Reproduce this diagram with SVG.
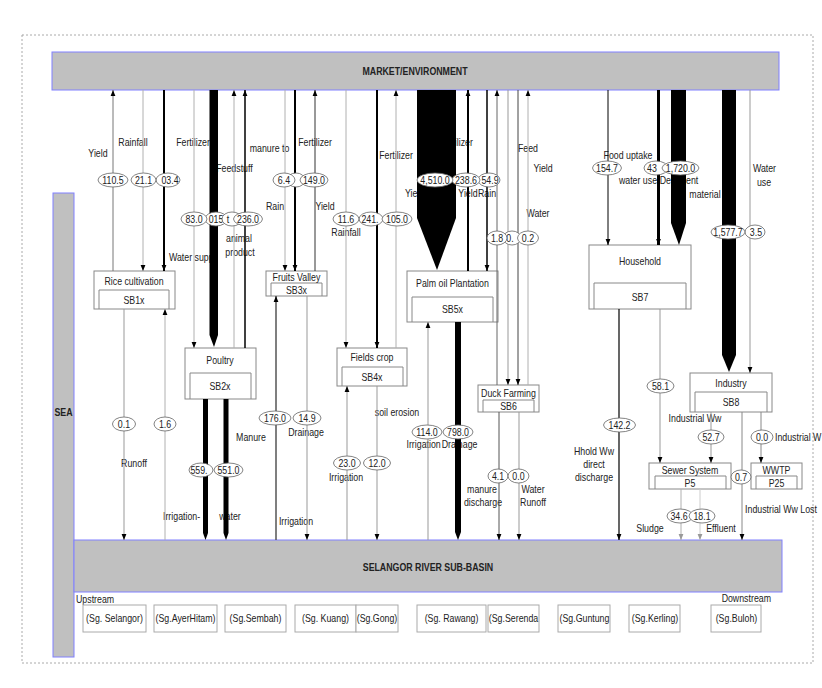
<svg xmlns="http://www.w3.org/2000/svg" width="822" height="688" viewBox="0 0 822 688">
<defs>
<style>
text{font-family:"Liberation Sans",Arial,sans-serif;font-size:11px;fill:#222}
.c{text-anchor:middle}
.e{text-anchor:end}
.b{font-weight:bold}
.bar{fill:#c0c0c0;stroke:#8080ff;stroke-width:1}
.box{fill:#fff;stroke:#888;stroke-width:1}
.inn{fill:none;stroke:#888;stroke-width:1}
.riv{fill:#fff;stroke:#aaa;stroke-width:1}
.el{fill:#fff;stroke:#666;stroke-width:0.9}
.a{fill:none;marker-end:url(#ak)}
.ag{fill:none;marker-end:url(#ag)}
.k{stroke:#000}
.g{stroke:#999}
.lg{stroke:#b0b0b0}
.dg{stroke:#666}
.poly{fill:#000}
</style>
<marker id="ak" markerUnits="userSpaceOnUse" markerWidth="6" markerHeight="6" viewBox="0 0 6 6" refX="6" refY="3" orient="auto"><path d="M0,0.6 L6,3 L0,5.4z" fill="#000"/></marker>
<marker id="ag" markerUnits="userSpaceOnUse" markerWidth="6" markerHeight="6" viewBox="0 0 6 6" refX="6" refY="3" orient="auto"><path d="M0,0.6 L6,3 L0,5.4z" fill="#999"/></marker>
</defs>
<rect x="0" y="0" width="822" height="688" fill="#fff"/>
<rect x="22" y="35" width="791" height="628" fill="none" stroke="#aaa" stroke-width="1" stroke-dasharray="2,2"/>

<g id="market">
<rect class="bar" x="52" y="52" width="727" height="38"/>
<g transform="scale(0.8 1)"><text class="c b" x="518.75" y="75">MARKET/ENVIRONMENT</text></g>
</g>
<g id="sea">
<rect class="bar" x="53" y="193" width="21" height="464"/>
<g transform="scale(0.8 1)"><text class="c b" x="79.4" y="416">SEA</text></g>
</g>
<g id="river">
<rect class="bar" x="74" y="540" width="708" height="52"/>
<g transform="scale(0.8 1)"><text class="c b" x="535" y="571">SELANGOR RIVER SUB-BASIN</text>
<text x="95" y="603">Upstream</text>
<text class="e" x="963.75" y="602">Downstream</text></g>
</g>
<g id="subrivers">
<rect class="riv" x="83" y="605" width="63" height="27"/>
<rect class="riv" x="154" y="605" width="63" height="27"/>
<rect class="riv" x="225" y="605" width="61" height="27"/>
<rect class="riv" x="295" y="605" width="61" height="27"/>
<rect class="riv" x="356" y="605" width="42" height="27"/>
<rect class="riv" x="417" y="605" width="69" height="27"/>
<rect class="riv" x="488" y="605" width="51" height="27"/>
<rect class="riv" x="558" y="605" width="52" height="27"/>
<rect class="riv" x="629" y="605" width="51" height="27"/>
<rect class="riv" x="711" y="605" width="50" height="27"/>
<g transform="scale(0.8 1)">
<text class="c" x="143.1" y="622">(Sg. Selangor)</text>
<text class="c" x="231.9" y="622">(Sg.AyerHitam)</text>
<text class="c" x="319.4" y="622">(Sg.Sembah)</text>
<text class="c" x="406.9" y="622">(Sg. Kuang)</text>
<text class="c" x="471.25" y="622">(Sg.Gong)</text>
<text class="c" x="564.4" y="622">(Sg. Rawang)</text>
<text class="c" x="641.9" y="622">(Sg.Serenda</text>
<text class="c" x="730.6" y="622">(Sg.Guntung</text>
<text class="c" x="818.75" y="622">(Sg.Kerling)</text>
<text class="c" x="920.6" y="622">(Sg.Buloh)</text>
</g>
</g>

<g id="rice">
<rect class="box" x="94" y="271" width="81" height="38"/>
<path class="inn" d="M99,309 V290 H169 V309"/>
<g transform="scale(0.8 1)"><text class="c" x="167.5" y="285">Rice cultivation</text><text class="c" x="167.5" y="304">SB1x</text></g>
</g>
<g id="poultry">
<rect class="box" x="185" y="348" width="71" height="51"/>
<path class="inn" d="M190,399 V373 H251 V399"/>
<g transform="scale(0.8 1)"><text class="c" x="275" y="364">Poultry</text><text class="c" x="275" y="390">SB2x</text></g>
</g>
<g id="fruits">
<rect class="box" x="266" y="271" width="61" height="25"/>
<path class="inn" d="M271,296 V283 H322 V296"/>
<g transform="scale(0.8 1)"><text class="c" x="370.6" y="281">Fruits Valley</text><text class="c" x="370.6" y="294">SB3x</text></g>
</g>
<g id="fields">
<rect class="box" x="337" y="348" width="70" height="38"/>
<path class="inn" d="M342,386 V367 H403 V386"/>
<g transform="scale(0.8 1)"><text class="c" x="465" y="361">Fields crop</text><text class="c" x="465" y="381">SB4x</text></g>
</g>
<g id="palm">
<rect class="box" x="407" y="271" width="91" height="51"/>
<path class="inn" d="M412,322 V297 H493 V322"/>
<g transform="scale(0.8 1)"><text class="c" x="565.6" y="287">Palm oil Plantation</text><text class="c" x="565.6" y="313">SB5x</text></g>
</g>
<g id="duck">
<rect class="box" x="478" y="385" width="61" height="27"/>
<path class="inn" d="M483,412 V400 H534 V412"/>
<g transform="scale(0.8 1)"><text class="c" x="635.6" y="397">Duck Farming</text><text class="c" x="635.6" y="410">SB6</text></g>
</g>
<g id="household">
<rect class="box" x="589" y="245" width="102" height="64"/>
<path class="inn" d="M594,309 V283 H686 V309"/>
<g transform="scale(0.8 1)"><text class="c" x="800" y="265">Household</text><text class="c" x="800" y="301">SB7</text></g>
</g>
<g id="industry">
<rect class="box" x="690" y="373" width="82" height="39"/>
<path class="inn" d="M695,412 V392 H767 V412"/>
<g transform="scale(0.8 1)"><text class="c" x="913.75" y="387">Industry</text><text class="c" x="913.75" y="406">SB8</text></g>
</g>
<g id="sewer">
<rect class="box" x="649" y="463" width="82" height="26"/>
<path class="inn" d="M655,489 V476 H726 V489"/>
<g transform="scale(0.8 1)"><text class="c" x="862.5" y="474">Sewer System</text><text class="c" x="862.5" y="487">P5</text></g>
</g>
<g id="wwtp">
<rect class="box" x="751" y="463" width="51" height="26"/>
<path class="inn" d="M756,489 V476 H797 V489"/>
<g transform="scale(0.8 1)"><text class="c" x="970.6" y="474">WWTP</text><text class="c" x="970.6" y="487">P25</text></g>
</g>

<g id="flow-labels" transform="scale(0.8 1)">
<text class="c" x="122.5" y="157">Yield</text>
<text class="c" x="166.25" y="146">Rainfall</text>
<text class="c" x="241.25" y="146">Fertilizer</text>
<text class="c" x="293.1" y="172">Feedstuff</text>
<text class="c" x="336.9" y="152">manure to</text>
<text x="211.25" y="261">Water supp</text>
<text class="c" x="298.75" y="242">animal</text>
<text class="c" x="300" y="256">product</text>
<text class="c" x="343.75" y="210">Rain</text>
<text class="c" x="393.75" y="146">Fertilizer</text>
<text class="c" x="406.25" y="210">Yield</text>
<text class="c" x="432.5" y="236">Rainfall</text>
<text class="c" x="495" y="159">Fertilizer</text>
<text class="c" x="570" y="146">Fertilizer</text>
<text x="506.25" y="197">Yield</text>
<text class="c" x="585" y="197">Yield</text>
<text class="c" x="608.75" y="197">Rain</text>
<text class="c" x="660" y="152">Feed</text>
<text class="c" x="678.75" y="172">Yield</text>
<text class="c" x="672.5" y="217">Water</text>
<text class="c" x="785" y="159">Food uptake</text>
<text class="c" x="797.5" y="184">water use</text>
<text class="c" x="848.75" y="184">Detergent</text>
<text class="c" x="881.25" y="198">material</text>
<text class="c" x="955.6" y="172">Water</text>
<text class="c" x="955" y="186">use</text>
<text class="c" x="167.5" y="467">Runoff</text>
<text x="203.75" y="520">Irrigation-</text>
<text class="c" x="287.5" y="520">water</text>
<text class="c" x="313.75" y="441">Manure</text>
<text class="c" x="370" y="525">Irrigation</text>
<text class="c" x="382.5" y="436">Drainage</text>
<text class="c" x="496.25" y="416">soil erosion</text>
<text class="c" x="432.5" y="481">Irrigation</text>
<text class="c" x="529.5" y="448">Irrigation</text>
<text class="c" x="574.5" y="448">Drainage</text>
<text class="c" x="602.5" y="493">manure</text>
<text class="c" x="603.75" y="506">discharge</text>
<text class="c" x="666.25" y="493">Water</text>
<text class="c" x="666.25" y="506">Runoff</text>
<text class="c" x="742.5" y="455">Hhold Ww</text>
<text class="c" x="742.5" y="468">direct</text>
<text class="c" x="742.5" y="481">discharge</text>
<text class="c" x="868.75" y="422">Industrial Ww</text>
<text x="968.75" y="441">Industrial W</text>
<text class="c" x="976.25" y="513">Industrial Ww Lost</text>
<text class="c" x="812.5" y="532">Sludge</text>
<text class="c" x="901.25" y="532">Effluent</text>
</g>

<g id="connectors">
<path class="a" style="stroke:#777" d="M113,271 V90"/>
<path class="a lg" d="M143,90 V271"/>
<path class="a k" stroke-width="2" d="M164,90 V271"/>
<path class="a g" d="M124,309 V540"/>
<path class="a lg" d="M165,540 V309"/>
<path class="a lg" d="M194,90 V348"/>
<polygon class="poly" points="209.5,90 218,90 218,335 214,347 209.5,335"/>
<path class="a lg" d="M234,348 V90"/>
<path class="a k" stroke-width="1.5" d="M245,348 V90"/>
<polygon class="poly" points="203,399 208,399 208,533 205.5,540 203,533"/>
<polygon class="poly" points="223.5,399 228.5,399 228.5,533 226,540 223.5,533"/>
<path class="a lg" d="M285,90 V271"/>
<path class="a k" stroke-width="2" d="M295,90 V271"/>
<path class="a" style="stroke:#333" d="M315,271 V90"/>
<path class="a" style="stroke:#555" stroke-width="1.5" d="M276,540 V296"/>
<path class="a g" d="M307,296 V540"/>
<path class="a lg" d="M346,90 V348"/>
<path class="a k" stroke-width="2" d="M377,90 V348"/>
<path class="a lg" d="M396,348 V90"/>
<path class="a g" d="M347,540 V386"/>
<path class="a g" d="M377,386 V540"/>
<polygon class="poly" points="417,90 456,90 456,218 437,270 417,218"/>
<path class="a k" stroke-width="2" d="M468,271 V90"/>
<path class="a k" stroke-width="1.5" d="M487,90 V271"/>
<path class="a g" d="M428,540 V322"/>
<polygon class="poly" points="455,322 461,322 461,532 458,540 455,532"/>
<path class="a dg" d="M497,385 V90"/>
<path class="a g" d="M508,90 V385"/>
<path class="a" style="stroke:#444" d="M518,90 V385"/>
<path class="a lg" d="M528,385 V90"/>
<path class="a" style="stroke:#555" d="M499,412 V540"/>
<path class="a g" d="M519,412 V540"/>
<path class="a k" d="M608,90 V245"/>
<path class="a k" stroke-width="3" d="M658.5,90 V245"/>
<polygon class="poly" points="671,90 686,90 686,223 679,245 671,223"/>
<path class="a k" stroke-width="1.2" d="M619,309 V540"/>
<path class="a g" d="M660,309 V463"/>
<polygon class="poly" points="722,90 736,90 736,355 729,372 722,355"/>
<path class="a g" d="M750,90 V373"/>
<path class="a g" d="M711,412 V463"/>
<path class="a" style="stroke:#888" d="M742,412 V540"/>
<path class="a" style="stroke:#888" d="M761,412 V463"/>
<path class="ag lg" d="M681,489 V540"/>
<path class="ag" style="stroke:#ccc" d="M700,489 V540"/>
</g>

<g id="flow-values" transform="scale(0.8 1)">
<ellipse class="el" cx="210" cy="180" rx="15" ry="7"/><text class="c" x="212.5" y="183.8">03.4</text>
<ellipse class="el" cx="179.4" cy="180" rx="15.6" ry="7"/><text class="c" x="179.4" y="183.8">21.1</text>
<ellipse class="el" cx="141.25" cy="180" rx="18.75" ry="7"/><text class="c" x="141.25" y="183.8">110.5</text>

<ellipse class="el" cx="270" cy="219" rx="13.75" ry="7"/><text class="c" x="270" y="222.8">015</text>
<ellipse class="el" cx="290" cy="219" rx="12.5" ry="7"/><text class="c" x="285" y="222.8">t</text>
<ellipse class="el" cx="310" cy="219" rx="18.1" ry="7"/><text class="c" x="310" y="222.8">236.0</text>
<ellipse class="el" cx="242.5" cy="219" rx="16.25" ry="7"/><text class="c" x="242.5" y="222.8">83.0</text>

<ellipse class="el" cx="370" cy="180" rx="11.25" ry="7"/>
<ellipse class="el" cx="355" cy="180" rx="13.75" ry="7"/><text class="c" x="355" y="183.8">6.4</text>
<ellipse class="el" cx="392.5" cy="180" rx="17.5" ry="7"/><text class="c" x="392.5" y="183.8">149.0</text>

<ellipse class="el" cx="463.75" cy="219" rx="15" ry="7"/><text class="c" x="462.5" y="222.8">241.</text>
<ellipse class="el" cx="432.5" cy="219" rx="16.25" ry="7"/><text class="c" x="432.5" y="222.8">11.6</text>
<ellipse class="el" cx="496.25" cy="219" rx="18.75" ry="7"/><text class="c" x="496.25" y="222.8">105.0</text>

<ellipse class="el" cx="611.25" cy="180" rx="13.75" ry="7"/><text class="c" x="612.5" y="183.8">54.9</text>
<ellipse class="el" cx="582.5" cy="180" rx="17.5" ry="7"/><text class="c" x="582.5" y="183.8">238.6</text>
<ellipse class="el" cx="543.75" cy="180" rx="22.5" ry="7"/><text class="c" x="543.75" y="183.8">4,510.0</text>

<ellipse class="el" cx="640" cy="238" rx="11.25" ry="7"/><text class="c" x="637.5" y="241.8">0.</text>
<ellipse class="el" cx="621.25" cy="238" rx="12.5" ry="7"/><text class="c" x="621.25" y="241.8">1.8</text>
<ellipse class="el" cx="660" cy="238" rx="13.1" ry="7"/><text class="c" x="660" y="241.8">0.2</text>

<ellipse class="el" cx="820" cy="168" rx="15" ry="7"/><text class="c" x="815" y="171.8">43</text>
<ellipse class="el" cx="850.6" cy="168" rx="23.1" ry="7"/><text class="c" x="850.6" y="171.8">1,720.0</text>
<ellipse class="el" cx="758.75" cy="168" rx="18.1" ry="7"/><text class="c" x="758.75" y="171.8">154.7</text>

<ellipse class="el" cx="943.75" cy="232" rx="12.5" ry="7"/><text class="c" x="945" y="235.8">3.5</text>
<ellipse class="el" cx="910" cy="232" rx="21.25" ry="7"/><text class="c" x="910" y="235.8">1,577.7</text>

<ellipse class="el" cx="155" cy="424" rx="14.4" ry="7"/><text class="c" x="155" y="427.8">0.1</text>
<ellipse class="el" cx="206.25" cy="424" rx="13.75" ry="7"/><text class="c" x="206.25" y="427.8">1.6</text>

<ellipse class="el" cx="251.25" cy="470" rx="15" ry="7"/><text class="c" x="248.75" y="473.8">559.</text>
<ellipse class="el" cx="285.6" cy="470" rx="18.1" ry="7"/><text class="c" x="285.6" y="473.8">551.0</text>

<ellipse class="el" cx="343.75" cy="418" rx="20" ry="7"/><text class="c" x="343.75" y="421.8">176.0</text>
<ellipse class="el" cx="383.75" cy="418" rx="17.5" ry="7"/><text class="c" x="383.75" y="421.8">14.9</text>

<ellipse class="el" cx="433.75" cy="463" rx="16.9" ry="7"/><text class="c" x="433.75" y="466.8">23.0</text>
<ellipse class="el" cx="471.25" cy="463" rx="16.9" ry="7"/><text class="c" x="471.25" y="466.8">12.0</text>

<ellipse class="el" cx="533.75" cy="432" rx="18.75" ry="7"/><text class="c" x="533.75" y="435.8">114.0</text>
<ellipse class="el" cx="572.5" cy="432" rx="18.75" ry="7"/><text class="c" x="572.5" y="435.8">798.0</text>

<ellipse class="el" cx="622.5" cy="476" rx="12.5" ry="7"/><text class="c" x="622.5" y="479.8">4.1</text>
<ellipse class="el" cx="648.1" cy="476" rx="13.1" ry="7"/><text class="c" x="648.1" y="479.8">0.0</text>

<ellipse class="el" cx="774.4" cy="425" rx="20" ry="7"/><text class="c" x="774.4" y="428.8">142.2</text>
<ellipse class="el" cx="825.6" cy="386" rx="16.9" ry="7"/><text class="c" x="825.6" y="389.8">58.1</text>

<ellipse class="el" cx="888.75" cy="437" rx="16.25" ry="7"/><text class="c" x="888.75" y="440.8">52.7</text>
<ellipse class="el" cx="952.5" cy="437" rx="13.75" ry="7"/><text class="c" x="952.5" y="440.8">0.0</text>
<ellipse class="el" cx="926.25" cy="477" rx="12.5" ry="7"/><text class="c" x="926.25" y="480.8">0.7</text>

<ellipse class="el" cx="850" cy="516" rx="16.25" ry="7"/><text class="c" x="848.75" y="519.8">34.6</text>
<ellipse class="el" cx="877.5" cy="516" rx="16.25" ry="7"/><text class="c" x="877.5" y="519.8">18.1</text>
</g>
</svg>
